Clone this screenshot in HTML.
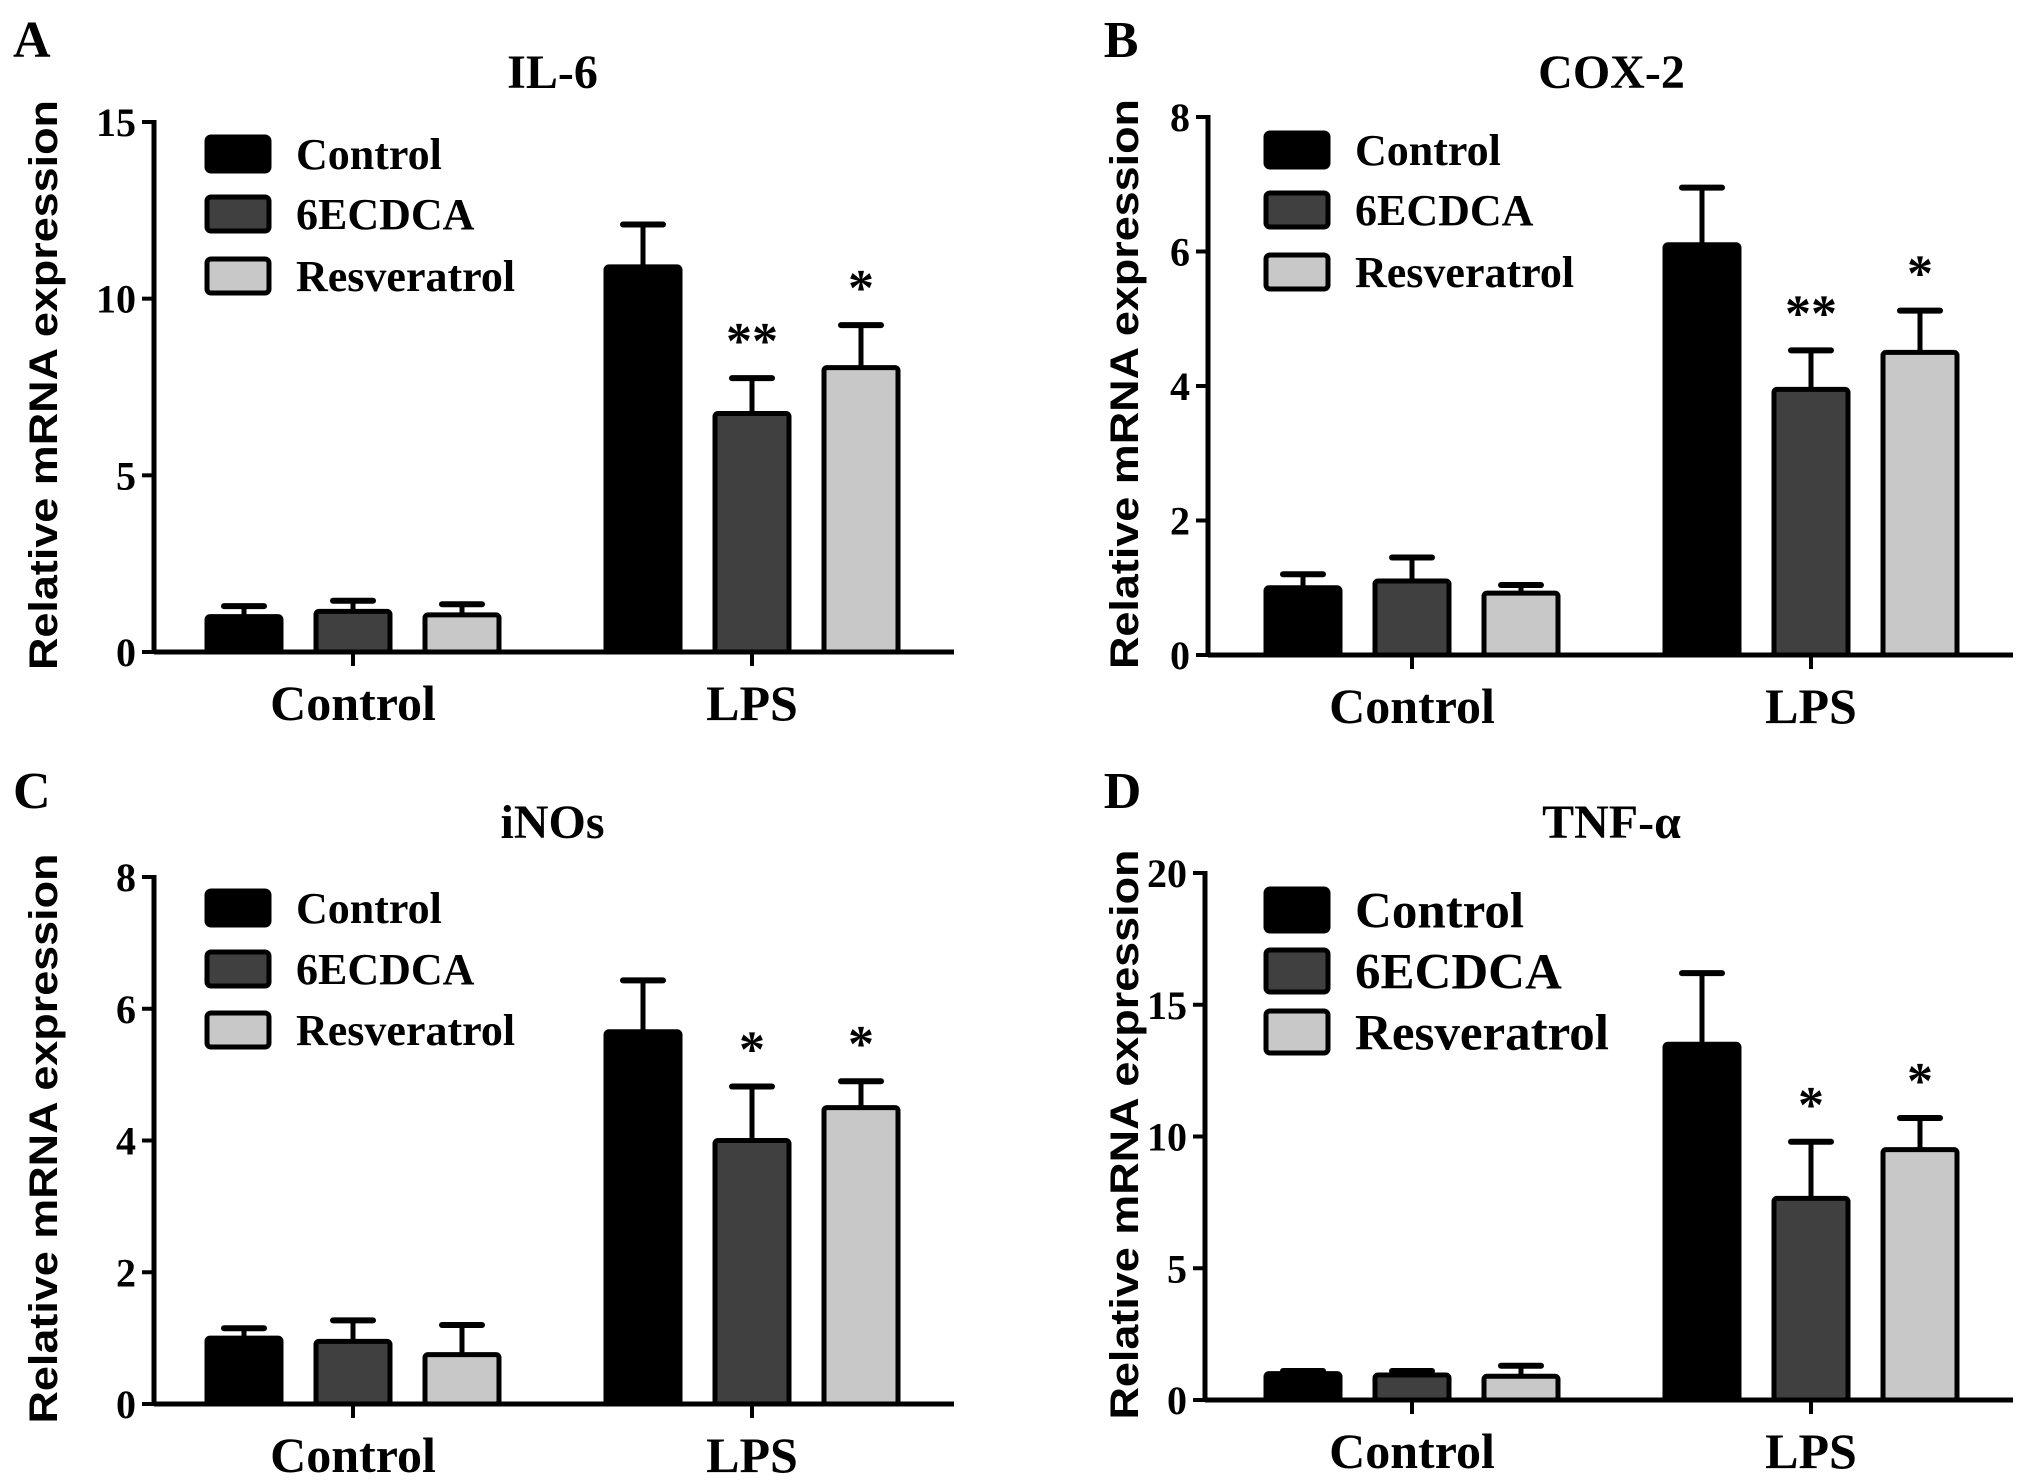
<!DOCTYPE html>
<html><head><meta charset="utf-8"><style>
html,body{margin:0;padding:0;background:#fff}
svg{display:block}
text{font-family:"Liberation Serif",serif;font-weight:bold;fill:#000}
.yt{font-family:"Liberation Sans",sans-serif;font-weight:bold}
</style></head><body>
<svg id="fig" width="2031" height="1483" viewBox="0 0 2031 1483" xmlns="http://www.w3.org/2000/svg"></svg>
<script>
const seriesNames = ["Control","6ECDCA","Resveratrol"];
const groups = ["Control","LPS"];
const il6Values = [1.0,1.15,1.05,10.9,6.75,8.05];
const il6Errors = [0.3,0.3,0.3,1.2,1.0,1.2];
const il6Stars = ["","","","","**","*"];
const cox2Values = [1.0,1.1,0.92,6.1,3.95,4.5];
const cox2Errors = [0.2,0.35,0.12,0.85,0.58,0.62];
const cox2Stars = ["","","","","**","*"];
const inosValues = [1.0,0.95,0.75,5.65,4.0,4.5];
const inosErrors = [0.15,0.32,0.45,0.78,0.82,0.4];
const inosStars = ["","","","","*","*"];
const tnfValues = [1.0,0.95,0.9,13.5,7.65,9.5];
const tnfErrors = [0.1,0.15,0.4,2.7,2.15,1.2];
const tnfStars = ["","","","","*","*"];
const il6Ticks = [0,5,10,15];
const cox2Ticks = [0,2,4,6,8];
const inosTicks = [0,2,4,6,8];
const tnfTicks = [0,5,10,15,20];

const colors = ["#000","#404040","#c8c8c8"];
const NS="http://www.w3.org/2000/svg";
const svg=document.getElementById('fig');
function mk(tag,attrs,parent,txt){const e=document.createElementNS(NS,tag);for(const k in attrs)e.setAttribute(k,attrs[k]);if(txt!==undefined)e.textContent=txt;(parent||svg).appendChild(e);return e;}

const panels=[
 {id:"a",letter:"A",title:"IL-6",vals:il6Values,errs:il6Errors,stars:il6Stars,ticks:il6Ticks,dx:0,top:122,zero:652,ax:154,legRows:[154,214,276],legFont:44,legH:34},
 {id:"b",letter:"B",title:"COX-2",vals:cox2Values,errs:cox2Errors,stars:cox2Stars,ticks:cox2Ticks,dx:1059,top:117,zero:655,ax:1208,legRows:[150,210,272],legFont:44,legH:34},
 {id:"c",letter:"C",title:"iNOs",vals:inosValues,errs:inosErrors,stars:inosStars,ticks:inosTicks,dx:0,top:877,zero:1404,ax:154,legRows:[908,969,1030],legFont:44,legH:34},
 {id:"d",letter:"D",title:"TNF-α",vals:tnfValues,errs:tnfErrors,stars:tnfStars,ticks:tnfTicks,dx:1059,top:873,zero:1400,ax:1205,legRows:[910,971,1032],legFont:51,legH:42}
];

panels.forEach(p=>{
 const g=mk('g',{});
 
 
 const maxV=p.ticks[p.ticks.length-1];
 const y=v=>p.zero-(v/maxV)*(p.zero-p.top);
 const groupCenters=[353+p.dx,752+p.dx];
 const xEnd=954+p.dx;
 const L=mk('text',{x:13+p.dx*1.03,y:(p.top<600?57:808),'font-size':52},g,p.letter);
 
 
 const T=mk('text',{x:(groupCenters[0]+groupCenters[1])/2,y:(p.top<600?88:838),'font-size':48,'text-anchor':'middle'},g,p.title);
 
 
 const yc=(p.top+p.zero)/2-2;
 const yx=p.dx?1124:43;
 const YT=mk('text',{class:'yt',x:0,y:0,'font-size':40,'text-anchor':'middle',transform:`translate(${yx+14},${yc}) rotate(-90)`,textLength:570,lengthAdjust:'spacingAndGlyphs'},g,'Relative mRNA expression');
 
 
 const ya=mk('line',{x1:p.ax,y1:y(maxV)-2,x2:p.ax,y2:p.zero+2,stroke:'#000','stroke-width':5},g);
 
 
 p.ticks.forEach(t=>{
  const tk=mk('line',{x1:p.ax-12,y1:y(t),x2:p.ax,y2:y(t),stroke:'#000','stroke-width':4},g);
  
  
  const tl=mk('text',{x:p.ax-18,y:y(t)+14,'font-size':40,'text-anchor':'end'},g,String(t));
  
  
 });
 const xa=mk('line',{x1:p.ax,y1:p.zero,x2:xEnd,y2:p.zero,stroke:'#000','stroke-width':5},g);
 
 
 groups.forEach((gn,gi)=>{
  const cx=groupCenters[gi];
  const tk=mk('line',{x1:cx,y1:p.zero,x2:cx,y2:p.zero+14,stroke:'#000','stroke-width':4},g);
  
  
  const tl=mk('text',{x:cx,y:p.zero+68,'font-size':50,'text-anchor':'middle'},g,gn);
  
  
  seriesNames.forEach((sn,si)=>{
   const i=gi*3+si;
   const bc=cx+(si-1)*109;
   const v=p.vals[i],e=p.errs[i];
   const eb=mk('line',{x1:bc,y1:y(v),x2:bc,y2:y(v+e),stroke:'#000','stroke-width':5},g);
   
   
   const cap=mk('line',{x1:bc-20,y1:y(v+e),x2:bc+20,y2:y(v+e),stroke:'#000','stroke-width':6,'stroke-linecap':'round'},g);
   
   
   const b=mk('rect',{x:bc-37,y:y(v),width:74,height:p.zero-y(v),fill:colors[si],stroke:'#000','stroke-width':5,rx:3},g);
   
   
   if(p.stars[i]){
    const st=mk('text',{x:bc,y:y(v+e)-20,'font-size':52,'text-anchor':'middle'},g,p.stars[i]);
    
    
   }
  });
 });
 seriesNames.forEach((sn,si)=>{
  const ry=p.legRows[si];
  const r=mk('rect',{x:207+p.dx,y:ry-p.legH/2,width:62,height:p.legH,fill:colors[si],stroke:'#000','stroke-width':5,rx:4},g);
  
  
  const lt=mk('text',{x:296+p.dx,y:ry+p.legFont*0.34,'font-size':p.legFont},g,sn);
  
  
 });
});
</script>
</body></html>
